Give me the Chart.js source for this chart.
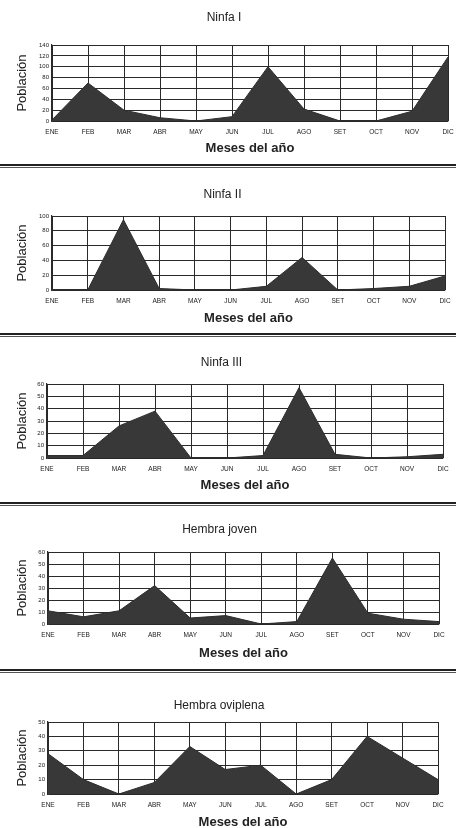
<!DOCTYPE html>
<html>
<head>
<meta charset="utf-8">
<script src="https://cdn.jsdelivr.net/npm/chart.js@4.4.0/dist/chart.umd.min.js"></script>
<style>
body { margin: 0; background: #fff; width: 456px; height: 828px; overflow: hidden; position: relative; }
canvas { position: absolute; left: 0; }
.sep { position: absolute; left: 0; width: 456px; height: 1px; border-top: 2px solid #222; border-bottom: 1px solid #555; z-index: 2; }
</style>
</head>
<body>
<div class="sep" style="top:164px"></div>
<div class="sep" style="top:333px"></div>
<div class="sep" style="top:502px"></div>
<div class="sep" style="top:669px"></div>

<script>
const meses = ['ENE', 'FEB', 'MAR', 'ABR', 'MAY', 'JUN', 'JUL', 'AGO', 'SET', 'OCT', 'NOV', 'DIC'];
const titulos = ['Ninfa I', 'Ninfa II', 'Ninfa III', 'Hembra joven', 'Hembra oviplena'];

const ninfa1 = [2, 70, 20, 6, 0, 8, 100, 22, 0, 0, 18, 118];
const ninfa2 = [0, 0, 95, 2, 0, 0, 5, 44, 0, 2, 5, 19];
const ninfa3 = [2, 2, 26, 38, 0, 0, 2, 57, 3, 0, 1, 3];
const hembraJoven = [11, 6, 11, 32, 5, 7, 0, 2, 55, 9, 4, 2];
const hembraOviplena = [28, 10, 0, 8, 33, 17, 20, 0, 10, 40, 25, 10];

const maximos = [140, 100, 60, 60, 50];
const pasos = [20, 20, 10, 10, 10];

// layout per panel (canvas coords): top, height, title centre, plot top/bottom/left/right, x title centre
const paneles = [
    { top: 0,   h: 158, tc: 18, pt: 45, pb: 121, pl: 52, pr: 448, xt: 148 },
    { top: 170, h: 158, tc: 25, pt: 46, pb: 120, pl: 52, pr: 445, xt: 148 },
    { top: 338, h: 160, tc: 25, pt: 46, pb: 120, pl: 47, pr: 443, xt: 147 },
    { top: 507, h: 155, tc: 23, pt: 45, pb: 117, pl: 48, pr: 439, xt: 146 },
    { top: 674, h: 154, tc: 32, pt: 48, pb: 120, pl: 48, pr: 438, xt: 148 }
];

const series = [ninfa1, ninfa2, ninfa3, hembraJoven, hembraOviplena];
const FONT = "'Liberation Sans', Arial, sans-serif";
const LINEA = '#2a2a2a';

series.forEach((datos, i) => {
    const p = paneles[i];
    const canvas = document.createElement('canvas');
    canvas.width = 456;
    canvas.height = p.h;
    canvas.style.top = p.top + 'px';
    document.body.appendChild(canvas);

    const titleLh = 12 * 1.2;
    const xTitleLh = 13 * 1.2;

    new Chart(canvas.getContext('2d'), {
        type: 'line',
        data: {
            labels: meses,
            datasets: [{
                data: datos,
                fill: 'origin',
                backgroundColor: '#383838',
                borderColor: '#2e2e2e',
                borderWidth: 1,
                pointRadius: 0,
                tension: 0
            }]
        },
        options: {
            responsive: false,
            animation: false,
            layout: { padding: { top: 0, left: 0, bottom: 0, right: 456 - p.pr } },
            plugins: {
                legend: { display: false },
                tooltip: { enabled: false },
                title: {
                    display: true,
                    text: titulos[i],
                    color: '#222',
                    font: { family: FONT, size: 12, weight: 'normal' },
                    padding: { top: p.tc - titleLh / 2, bottom: p.pt - p.tc - titleLh / 2 }
                }
            },
            scales: {
                x: {
                    offset: false,
                    grid: { color: LINEA, lineWidth: 1, drawTicks: false, offset: false },
                    border: { color: LINEA, width: 1.2 },
                    ticks: { color: '#1a1a1a', padding: 7, maxRotation: 0, autoSkip: false, font: { family: FONT, size: 6.5 } },
                    title: {
                        display: true,
                        text: 'Meses del año',
                        color: '#222',
                        font: { family: FONT, size: 13, weight: 'bold' },
                        padding: { top: 0, bottom: p.h - p.xt - xTitleLh / 2 }
                    },
                    afterFit: s => { s.height = p.h - p.pb; s.paddingLeft = 0; s.paddingRight = 0; }
                },
                y: {
                    min: 0,
                    max: maximos[i],
                    grid: { color: LINEA, lineWidth: 1, drawTicks: false },
                    border: { color: LINEA, width: 1.2 },
                    ticks: { stepSize: pasos[i], color: '#1a1a1a', padding: 3, font: { family: FONT, size: 6 } },
                    title: {
                        display: true,
                        text: 'Población',
                        color: '#222',
                        font: { family: FONT, size: 13, weight: 'normal' },
                        padding: { top: 22 - xTitleLh / 2, bottom: 0 }
                    },
                    afterFit: s => { s.width = p.pl; }
                }
            }
        }
    });
});
</script>
</body>
</html>
